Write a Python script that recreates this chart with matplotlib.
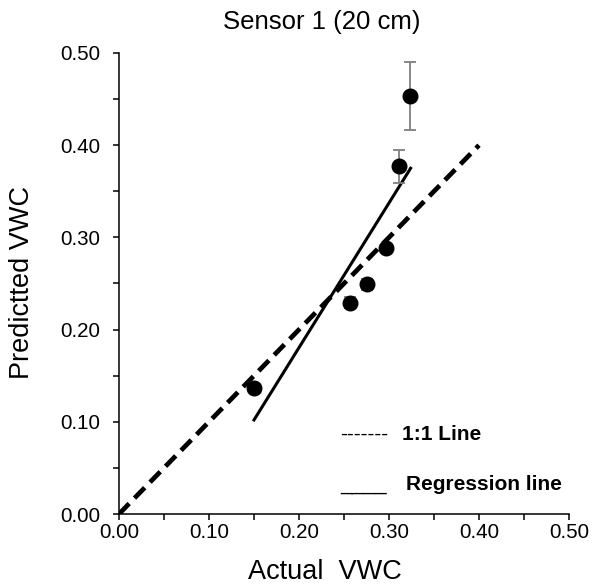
import numpy as np
import matplotlib
matplotlib.use("Agg")
import matplotlib.pyplot as plt
from matplotlib.ticker import MultipleLocator, FormatStrFormatter

plt.rcParams['font.family'] = ['Liberation Sans', 'DejaVu Sans']
plt.rcParams['lines.scale_dashes'] = False

# measured vs predicted VWC, sensor 1 at 20 cm
actual = [0.150, 0.257, 0.275, 0.297, 0.311, 0.323]
predicted = [0.137, 0.229, 0.249, 0.288, 0.377, 0.453]
pred_err = [0.003, 0.006, 0.006, 0.004, 0.018, 0.037]

one_x = [0.0, 0.40]
one_y = [0.0, 0.40]
reg_x = [0.150, 0.324]
reg_y = [0.102, 0.375]

fig = plt.figure(figsize=(5.93, 5.88), dpi=100)
ax = fig.add_axes([119 / 593, 74 / 588, 450 / 593, 461 / 588])

ax.plot(one_x, one_y, color='black', lw=3.4, ls=(0, (10.5, 5.5)),
        dash_capstyle='butt', zorder=2)
ax.plot(reg_x, reg_y, color='black', lw=2.2, zorder=2)
ax.errorbar(actual, predicted, yerr=pred_err, fmt='o', color='black',
            markersize=10.5, ecolor='#7f7f7f', elinewidth=1.3,
            capsize=4.3, capthick=1.3, zorder=3)

ax.set_xlim(0, 0.5)
ax.set_ylim(0, 0.5)
ax.xaxis.set_major_locator(MultipleLocator(0.1))
ax.xaxis.set_minor_locator(MultipleLocator(0.05))
ax.yaxis.set_major_locator(MultipleLocator(0.1))
ax.yaxis.set_minor_locator(MultipleLocator(0.05))
ax.xaxis.set_major_formatter(FormatStrFormatter('%.2f'))
ax.yaxis.set_major_formatter(FormatStrFormatter('%.2f'))

for s in ['top', 'right']:
    ax.spines[s].set_visible(False)
for s in ['left', 'bottom']:
    ax.spines[s].set_linewidth(1.1)
ax.tick_params(which='both', direction='out', length=4.3, width=1.1)
ax.tick_params(axis='x', labelsize=14.8, pad=2)
ax.tick_params(axis='y', labelsize=14.8, pad=9)

ax.set_xlabel('Actual  VWC', fontsize=19.5, va='baseline')
ax.xaxis.set_label_coords(0.458, -0.141)
ax.set_ylabel('Predictted VWC', fontsize=19.5, ha='center', va='center')
ax.yaxis.set_label_coords(-0.2156, 0.502)
ax.set_title('Sensor 1 (20 cm)', fontsize=18.5, x=0.451, y=1.052,
             va='baseline', pad=0)

# hand-made key, like the text boxes in the original
ax.text(0.2456, 0.0803, '-------', fontsize=15, va='baseline')
ax.text(0.314, 0.0803, '1:1 Line', fontsize=15, fontweight='bold', va='baseline')
ax.text(0.2456, 0.026, '____', fontsize=15, va='baseline')
ax.text(0.319, 0.026, 'Regression line', fontsize=15, fontweight='bold', va='baseline')

fig.savefig('out.png', dpi=100)
